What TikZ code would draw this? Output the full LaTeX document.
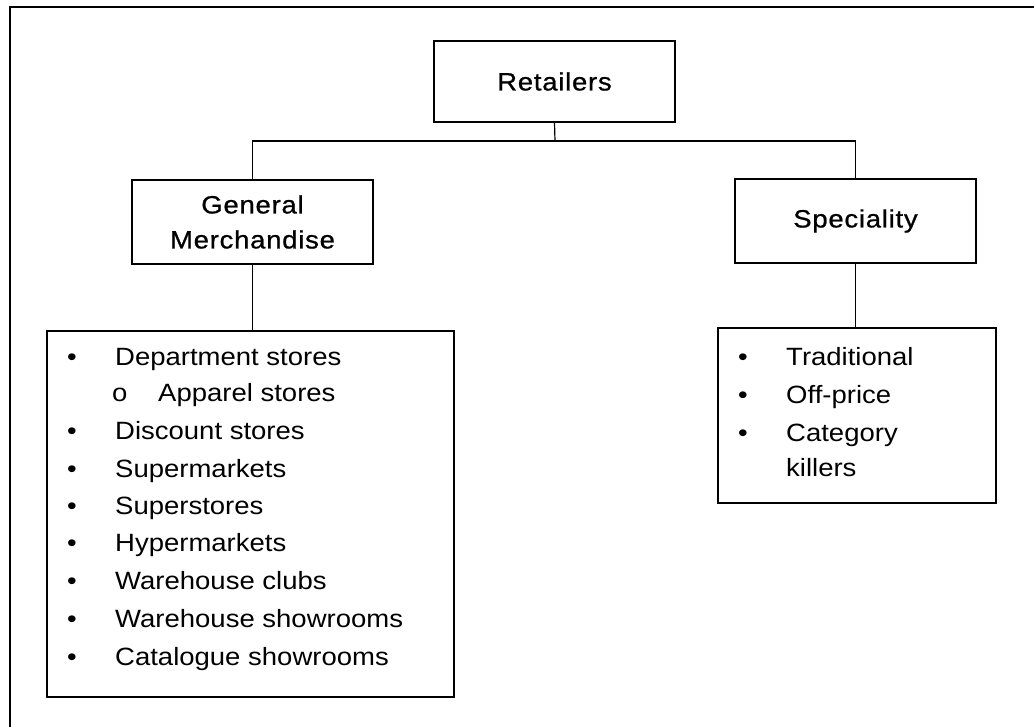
\documentclass[tikz,border=0pt]{standalone}
\usepackage{fontspec}
\setmainfont{Liberation Sans}[FakeStretch=1.1]
\newcommand\headfont{\fontsize{25}{35}\selectfont\addfontfeature{LetterSpace=3,FakeBold=0.8}}
\newcommand\listfont{\fontsize{25}{37}\selectfont}
\newcommand\bul{\makebox[48pt][l]{•}}
\newcommand\subbul{\makebox[46pt][l]{o}}
\tikzset{
  box/.style={draw,line width=1.2pt,inner sep=0pt,align=center,font=\headfont},
  listbox/.style={draw,line width=1.2pt,inner sep=0pt},
  item/.style={anchor=base west,inner sep=0pt,font=\listfont},
  link/.style={line width=1.2pt},
}

\begin{document}
\begin{tikzpicture}[x=1pt,y=-1pt,line cap=round]
\path[use as bounding box] (0,0) rectangle (1034,727);
\draw[link] (10,727) -- (10,7) -- (1034,7);
% headings
\node[box,minimum width=241pt,minimum height=81pt] (retail) at (554.5,81.5) {Retailers};
\node[box,minimum width=241pt,minimum height=84pt] (gm) at (252.5,222) {General\\Merchandise};
\node[box,minimum width=241pt,minimum height=84pt] (spec) at (855.5,221) {Speciality};
% list boxes
\node[listbox,minimum width=407pt,minimum height=366pt] (gmlist) at (250.5,514) {};
\node[listbox,minimum width=278pt,minimum height=175pt] (speclist) at (857,415.5) {};
% connectors
\coordinate (bar) at (555,141);
\draw[link] (retail.south) -- (bar);
\draw[link] (gm.north) |- (bar) -| (spec.north);
\draw[link] (gm.south) -- (gm.south |- gmlist.north);
\draw[link] (spec.south) -- (spec.south |- speclist.north);
% general merchandise items
\node[item] (dept) at (67,366) {\bul Department stores};
\node[item] (apparel) at (112,402) {\subbul Apparel stores};
\node[item] (discount) at (67,439) {\bul Discount stores};
\node[item] (supermkt) at (67,477) {\bul Supermarkets};
\node[item] (superstr) at (67,514) {\bul Superstores};
\node[item] (hypermkt) at (67,551) {\bul Hypermarkets};
\node[item] (whclubs) at (67,589) {\bul Warehouse clubs};
\node[item] (whshow) at (67,627) {\bul Warehouse showrooms};
\node[item] (catshow) at (67,665) {\bul Catalogue showrooms};
% speciality items
\node[item] (trad) at (738,366) {\bul Traditional};
\node[item] (offprice) at (738,403) {\bul Off-price};
\node[item] (category) at (738,441) {\bul Category};
\node[item] (killers) at (786,476) {killers};
\end{tikzpicture}
\end{document}
